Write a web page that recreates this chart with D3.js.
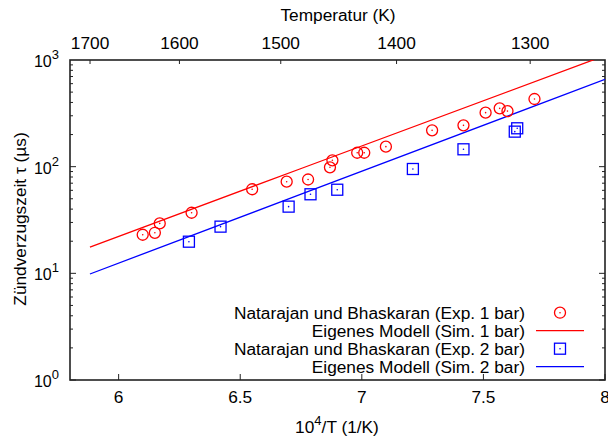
<!DOCTYPE html>
<html><head><meta charset="utf-8">
<script src="https://cdn.jsdelivr.net/npm/d3@7"></script>
<style>html,body{margin:0;padding:0;background:#fff;} svg{display:block;font-family:"Liberation Sans",Arial,sans-serif;}</style>
</head><body>
<script>
// Data
const expX1 = [6.099, 6.149, 6.169, 6.300, 6.549, 6.691, 6.779, 6.869, 6.879, 6.981, 7.010, 7.099, 7.289, 7.418, 7.509, 7.567, 7.599, 7.710];
const expY1 = [23.0, 24.0, 29.4, 37.0, 61.4, 72.3, 75.8, 98.6, 114.7, 135, 135, 154, 219, 244, 321, 352, 332, 431];
const expX2 = [6.289, 6.419, 6.699, 6.789, 6.899, 7.210, 7.418, 7.629, 7.639];
const expY2 = [19.8, 27.4, 42.2, 55.1, 60.8, 95.1, 145.5, 213, 229];
const simX1 = [5.882, 6.745, 8.0];
const simY1 = [17.6, 95.1, 1101];
const simX2 = [5.882, 6.745, 8.0];
const simY2 = [9.86, 54.7, 659];
const xTicks = [6, 6.5, 7, 7.5, 8];
const xTickLabels = ["6", "6.5", "7", "7.5", "8"];
const tempTicks = [1700, 1600, 1500, 1400, 1300];
const yTicks = [1, 10, 100, 1000];
const yTickExp = ["0", "1", "2", "3"];
const legendLabels = ["Natarajan und Bhaskaran (Exp. 1 bar)", "Eigenes Modell (Sim. 1 bar)", "Natarajan und Bhaskaran (Exp. 2 bar)", "Eigenes Modell (Sim. 2 bar)"];

const W = 608, H = 439;
const L = 70, R = 605, T = 60, B = 380;
const FS = 17.3;
const red = "#ff0000", blue = "#0000ff", axisCol = "#222";

const svg = d3.select("body").append("svg").attr("width", W).attr("height", H);
const x = d3.scaleLinear().domain([5.8, 8]).range([L, R]);
const y = d3.scaleLog().domain([1, 1000]).range([B, T]);

svg.append("clipPath").attr("id", "clip").append("rect")
  .attr("x", L).attr("y", T).attr("width", R - L).attr("height", B - T);

// ticks
const g = svg.append("g").attr("stroke", axisCol).attr("stroke-width", 1);
xTicks.forEach(v => {
  g.append("line").attr("x1", x(v)).attr("x2", x(v)).attr("y1", B).attr("y2", B - 6);
});
tempTicks.forEach(t => {
  const v = 1e4 / t;
  g.append("line").attr("x1", x(v)).attr("x2", x(v)).attr("y1", T).attr("y2", T + 4);
});
for (let d = 1; d < 1000; d *= 10) {
  for (let m = 1; m <= 9; m++) {
    const v = d * m;
    const len = m === 1 ? 6 : 3;
    g.append("line").attr("x1", L).attr("x2", L + len).attr("y1", y(v)).attr("y2", y(v));
    g.append("line").attr("x1", R).attr("x2", R - len).attr("y1", y(v)).attr("y2", y(v));
  }
}

// frame
svg.append("rect").attr("x", L).attr("y", T).attr("width", R - L).attr("height", B - T)
  .attr("fill", "none").attr("stroke", axisCol).attr("stroke-width", 1.6);

// tick labels
xTicks.forEach((v, i) => {
  svg.append("text").attr("x", x(v)).attr("y", 403).attr("text-anchor", "middle")
    .attr("font-size", FS).text(xTickLabels[i]);
});
tempTicks.forEach(t => {
  svg.append("text").attr("x", x(1e4 / t)).attr("y", 49).attr("text-anchor", "middle")
    .attr("font-size", FS).text(t);
});
yTicks.forEach((v, i) => {
  const t = svg.append("text").attr("x", 59).attr("y", y(v) + 7).attr("text-anchor", "end")
    .attr("font-size", 16);
  t.append("tspan").text("10");
  t.append("tspan").attr("dy", -8).attr("font-size", 13).text(yTickExp[i]);
});

// axis titles
svg.append("text").attr("x", 338).attr("y", 21).attr("text-anchor", "middle")
  .attr("font-size", FS).text("Temperatur (K)");
const xt = svg.append("text").attr("x", 337).attr("y", 433).attr("text-anchor", "middle").attr("font-size", FS);
xt.append("tspan").text("10");
xt.append("tspan").attr("dy", -8).attr("font-size", 13).text("4");
xt.append("tspan").attr("dy", 8).text("/T (1/K)");
svg.append("text").attr("transform", "translate(26,219) rotate(-90)").attr("text-anchor", "middle")
  .attr("font-size", FS).text("Zündverzugszeit τ (µs)");

// lines
const line = d3.line().x(d => x(d[0])).y(d => y(d[1]));
const plot = svg.append("g").attr("clip-path", "url(#clip)");
plot.append("path").datum(simX1.map((v, i) => [v, simY1[i]])).attr("d", line)
  .attr("fill", "none").attr("stroke", red).attr("stroke-width", 1.3);
plot.append("path").datum(simX2.map((v, i) => [v, simY2[i]])).attr("d", line)
  .attr("fill", "none").attr("stroke", blue).attr("stroke-width", 1.3);

// markers
function circleMark(sel, cx, cy) {
  sel.append("circle").attr("cx", cx).attr("cy", cy).attr("r", 5.5)
    .attr("fill", "none").attr("stroke", red).attr("stroke-width", 1.3);
  sel.append("circle").attr("cx", cx).attr("cy", cy).attr("r", 0.8).attr("fill", red);
}
function squareMark(sel, cx, cy) {
  sel.append("rect").attr("x", cx - 5.5).attr("y", cy - 5.5).attr("width", 11).attr("height", 11)
    .attr("fill", "none").attr("stroke", blue).attr("stroke-width", 1.3);
  sel.append("circle").attr("cx", cx).attr("cy", cy).attr("r", 0.8).attr("fill", blue);
}
expX1.forEach((v, i) => circleMark(plot, x(v), y(expY1[i])));
expX2.forEach((v, i) => squareMark(plot, x(v), y(expY2[i])));

// legend
const rows = [312.7, 330.7, 348.7, 366.7];
legendLabels.forEach((lab, i) => {
  svg.append("text").attr("x", 525).attr("y", rows[i] + 6).attr("text-anchor", "end")
    .attr("font-size", FS).text(lab);
});
circleMark(svg, 560, rows[0]);
svg.append("line").attr("x1", 536).attr("x2", 584).attr("y1", rows[1]).attr("y2", rows[1])
  .attr("stroke", red).attr("stroke-width", 1.3);
squareMark(svg, 560, rows[2]);
svg.append("line").attr("x1", 536).attr("x2", 584).attr("y1", rows[3]).attr("y2", rows[3])
  .attr("stroke", blue).attr("stroke-width", 1.3);
</script>
</body></html>
